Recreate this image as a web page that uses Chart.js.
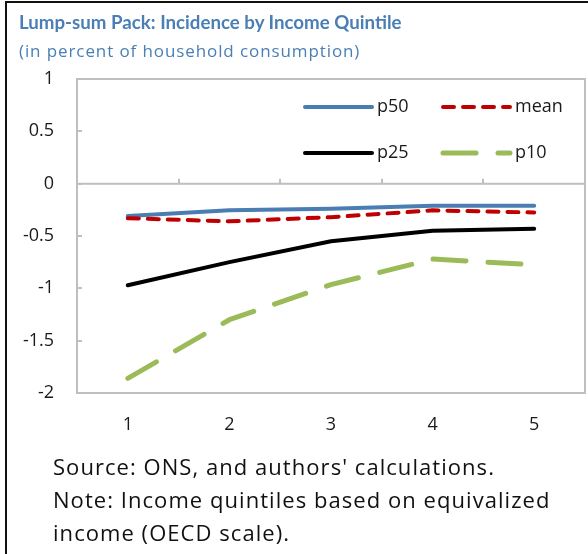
<!DOCTYPE html>
<html>
<head>
<meta charset="utf-8">
<title>Lump-sum Pack: Incidence by Income Quintile</title>
<script src="https://cdn.jsdelivr.net/npm/chart.js@4.4.1/dist/chart.umd.min.js"></script>
<style>
    html, body { margin: 0; padding: 0; background: #fff; }
    #wrap { position: relative; width: 588px; height: 554px; overflow: hidden; }
    #frame { position: absolute; left: 5px; top: 1px; right: -4px; bottom: -4px;
             border-left: 2px solid #111; border-top: 2px solid #111; }
    #chart { position: absolute; left: 0; top: 0; }
    .head { position: absolute; left: 19px; white-space: nowrap; color: #4a7fb5; }
    #title { top: 12px; font: bold 18.7px Lato, sans-serif; line-height: 21.6px; }
    #subtitle { top: 39px; font: 17px "Open Sans", sans-serif; line-height: 24px; letter-spacing: 0.9px; }
    #notes { position: absolute; left: 53px; top: 450px; color: #111;
             font: 22px "Open Sans", sans-serif; line-height: 33px; letter-spacing: 1.05px; white-space: nowrap; }
</style>
</head>
<body>
<div id="wrap">
    <div id="frame"></div>
    <canvas id="chart" width="588" height="554"></canvas>
    <div class="head" id="title">Lump-sum Pack: Incidence by Income Quintile</div>
    <div class="head" id="subtitle">(in percent of household consumption)</div>
    <div id="notes">Source: ONS, and authors' calculations.<br>Note: Income quintiles based on equivalized<br>income (OECD scale).</div>
</div>
<script>
// income quintiles on the x axis
const quintiles = ['1', '2', '3', '4', '5'];

// incidence, percent of household consumption
const p50 = [-0.31, -0.255, -0.24, -0.21, -0.21];
const mean = [-0.33, -0.36, -0.32, -0.255, -0.275];
const p25 = [-0.97, -0.75, -0.55, -0.45, -0.43];
const p10 = [-1.86, -1.30, -0.965, -0.72, -0.775];

// y axis range
const yMin = -2;
const yMax = 1;
const yStep = 0.5;

const tickFont = { family: 'Open Sans', size: 18 };

// grey plot frame, zero line and the small inward tick marks
const frameAndTicks = {
    id: 'frameAndTicks',
    beforeDatasetsDraw(chart) {
        const { ctx, chartArea: a, scales: { x, y } } = chart;
        ctx.save();
        ctx.strokeStyle = '#bfbfbf';
        ctx.lineWidth = 2;
        ctx.strokeRect(a.left, a.top, a.right - a.left, a.bottom - a.top);

        const y0 = y.getPixelForValue(0);
        ctx.beginPath();
        ctx.moveTo(a.left, y0);
        ctx.lineTo(a.right, y0);
        // category boundaries marked on the zero line
        const step = x.getPixelForValue(1) - x.getPixelForValue(0);
        for (let i = 1; i < quintiles.length; i++) {
            const px = Math.round(x.getPixelForValue(i) - step / 2);
            ctx.moveTo(px, y0);
            ctx.lineTo(px, y0 - 5);
        }
        y.ticks.forEach(function (t) {
            const py = Math.round(y.getPixelForValue(t.value));
            ctx.moveTo(a.left, py);
            ctx.lineTo(a.left + 5, py);
        });
        ctx.stroke();
        ctx.restore();
    }
};

// two-by-two legend inside the plot, top right
const legendBox = {
    id: 'legendBox',
    afterDatasetsDraw(chart) {
        const { ctx, chartArea: a } = chart;
        const cols = [a.left + 228, a.left + 366];
        const rows = [a.top + 28, a.top + 74];
        const sampleLen = 67;
        ctx.save();
        chart.data.datasets.forEach(function (ds, i) {
            const lx = cols[i % 2];
            const ly = rows[Math.floor(i / 2)];
            ctx.strokeStyle = ds.borderColor;
            ctx.lineWidth = ds.borderWidth;
            ctx.lineCap = 'round';
            ctx.setLineDash(ds.borderDash || []);
            ctx.beginPath();
            ctx.moveTo(lx, ly);
            ctx.lineTo(lx + sampleLen, ly);
            ctx.stroke();
            ctx.setLineDash([]);
            ctx.fillStyle = '#1a1a1a';
            ctx.font = '18px "Open Sans"';
            ctx.textBaseline = 'middle';
            ctx.fillText(ds.label, lx + sampleLen + 5, ly);
        });
        ctx.restore();
    }
};

document.addEventListener('DOMContentLoaded', function () {
    const ctx = document.getElementById('chart').getContext('2d');
    new Chart(ctx, {
        type: 'line',
        data: {
            labels: quintiles,
            datasets: [
                { label: 'p50', data: p50, borderColor: '#4a7eb3', borderWidth: 4, order: 1 },
                { label: 'mean', data: mean, borderColor: '#c00000', borderWidth: 4, borderDash: [11, 9], order: 0 },
                { label: 'p25', data: p25, borderColor: '#000000', borderWidth: 4, order: 2 },
                { label: 'p10', data: p10, borderColor: '#9bbb59', borderWidth: 5, borderDash: [33, 22], order: 3 }
            ]
        },
        options: {
            responsive: false,
            animation: false,
            layout: { padding: { top: 79, right: 3, left: 0, bottom: 0 } },
            plugins: {
                legend: { display: false },
                tooltip: { enabled: false }
            },
            elements: {
                point: { radius: 0 },
                line: { tension: 0, borderCapStyle: 'round', borderJoinStyle: 'round' }
            },
            scales: {
                x: {
                    offset: true,
                    grid: { display: false, drawTicks: false },
                    border: { display: false },
                    ticks: { padding: 21, color: '#1a1a1a', font: tickFont, maxRotation: 0 },
                    afterFit: function (s) { s.height = 161; }
                },
                y: {
                    min: yMin,
                    max: yMax,
                    grid: { display: false, drawTicks: false },
                    border: { display: false },
                    ticks: {
                        stepSize: yStep,
                        padding: 23,
                        color: '#1a1a1a',
                        font: tickFont,
                        callback: function (v) { return String(v); }
                    },
                    afterFit: function (s) { s.width = 77; }
                }
            }
        },
        plugins: [frameAndTicks, legendBox]
    });
});
</script>
</body>
</html>
